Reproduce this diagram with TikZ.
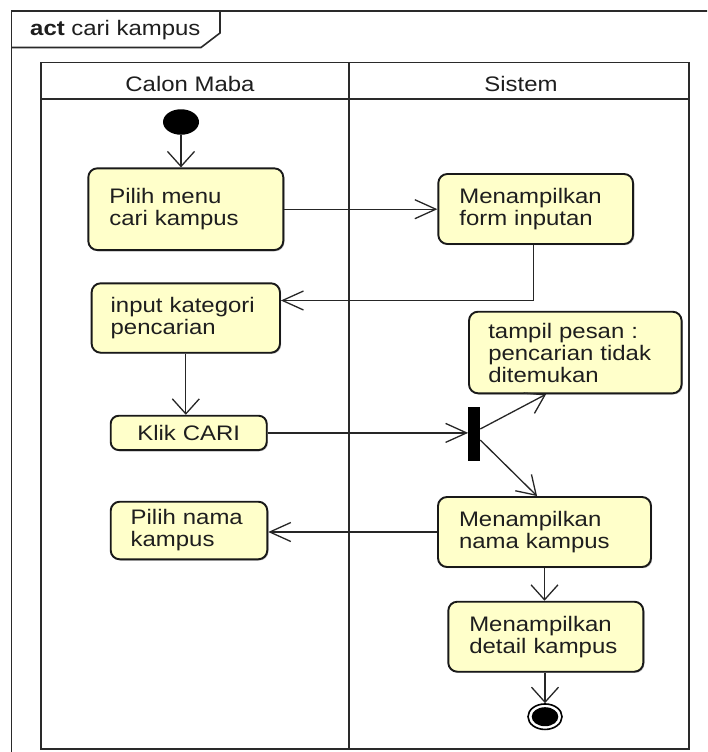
\documentclass[tikz,border=0pt]{standalone}
\usepackage{fontspec}
\setmainfont{Liberation Sans}[FakeStretch=1.14]
\usetikzlibrary{arrows.meta,shapes.geometric,calc,shadows}
\definecolor{actfill}{HTML}{FFFFCA}
\definecolor{linec}{HTML}{2A2A2A}
\definecolor{textc}{HTML}{1E1E1E}
\newcommand\diafont{\fontsize{21}{22}\selectfont}
\begin{document}
\begin{tikzpicture}[x=1pt,y=-1pt,
  frame/.style={draw=linec, line width=1.6pt},
  lane/.style={draw=linec, line width=1.6pt},
  act/.style={draw=black!90, line width=1.9pt, rounded corners=9pt, fill=actfill,
    align=left, inner ysep=0pt, font=\diafont, text=textc,
    drop shadow={shadow xshift=1.2pt, shadow yshift=-1.2pt, opacity=0.22, fill=black}},
  edge/.style={draw=black!85, line width=1.3pt},
  harr/.style={edge, -{Straight Barb[length=21pt,width=19pt]}},
  varr/.style={edge, -{Straight Barb[length=15pt,width=27pt]}},
  darr/.style={edge, -{Straight Barb[length=18pt,width=23pt]}},
  hdr/.style={font=\diafont, text=textc, anchor=base, inner sep=0pt}
]
\useasboundingbox (0,0) rectangle (707,752);
\fill[white] (0,0) rectangle (707,752);
\begin{scope}
  \clip (0,0) rectangle (707,752);
  \draw[frame] (11.5,11) rectangle (730,790);
\end{scope}
\draw[frame] (11.5,47.5) -- (201,47.5) -- (220,33) -- (220,11);
\node[font=\diafont, text=textc, anchor=base west, inner sep=0pt] (title) at (30,36) {\textbf{act} cari kampus};

% swimlanes
\draw[lane] (41,62.7) rectangle (688.7,749);
\draw[lane] (41,98.7) -- (688.7,98.7);
\draw[lane] (348.7,62.7) -- (348.7,749);
\node[hdr] (laneA) at (190,92) {Calon Maba};
\node[hdr] (laneB) at (521,92) {Sistem};

% initial node
\node[ellipse, fill=black, minimum width=36pt, minimum height=25.5pt, inner sep=0pt] (init) at (181,122) {};

% actions
\node[act, text width=153pt, inner xsep=21pt, minimum height=81.7pt] (pilih) at (185.8,209.2) {Pilih menu\\cari kampus};
\node[act, text width=152.7pt, inner xsep=21pt, minimum height=70pt] (form) at (535.7,209) {Menampilkan\\form inputan};
\node[act, text width=150.3pt, inner xsep=19pt, minimum height=69.4pt] (input) at (185.8,318) {input kategori\\pencarian};
\node[act, text width=174pt, inner xsep=19.3pt, minimum height=81.6pt] (tampil) at (575.3,352.5) {tampil pesan :\\pencarian tidak\\ditemukan};
\node[act, align=center, text width=114pt, inner xsep=21pt, minimum height=34.3pt, rounded corners=8pt] (klik) at (188.7,432.9) {Klik CARI};
\node[fill=black, minimum width=11.7pt, minimum height=54pt, inner sep=0pt] (fork) at (474.2,434) {};
\node[act, text width=116.6pt, inner xsep=20pt, minimum height=57.6pt] (pnama) at (189,530.5) {Pilih nama\\kampus};
\node[act, text width=171pt, inner xsep=21pt, minimum height=70pt] (nama) at (544.5,532) {Menampilkan\\nama kampus};
\node[act, text width=153pt, inner xsep=21pt, minimum height=70pt] (detail) at (545.8,636.7) {Menampilkan\\detail kampus};

% final node
\node[ellipse, draw=black, line width=1.6pt, fill=white, minimum width=34pt, minimum height=25.5pt, inner sep=0pt] (final) at (545,716.7) {};
\fill[black] (final.center) ellipse [x radius=13.3, y radius=9.5];

% edges
\draw[varr] (init.south) -- (init.south |- pilih.north);
\draw[harr] (pilih.east) -- (pilih.east -| form.west);
\draw[harr] (form.south -| 533.3,0) |- ([yshift=17.5pt]input.east);
\draw[varr] (input.south) -- (input.south |- klik.north);
\draw[harr] (klik.east) -- (klik.east -| fork.west);
\coordinate (tt) at ($(tampil.south west)+(78,0)$);
\coordinate (nt) at ($(nama.north west)+(100,0)$);
\draw[darr] ([yshift=5pt]fork.east) -- (tt);
\draw[darr] ([yshift=-6pt]fork.east) -- (nt);
\draw[harr] (nama.west) -- (nama.west -| pnama.east);
\draw[varr] (nama.south) -- (nama.south |- detail.north);
\draw[varr] (detail.south -| final.north) -- (final.north);
\end{tikzpicture}
\end{document}
